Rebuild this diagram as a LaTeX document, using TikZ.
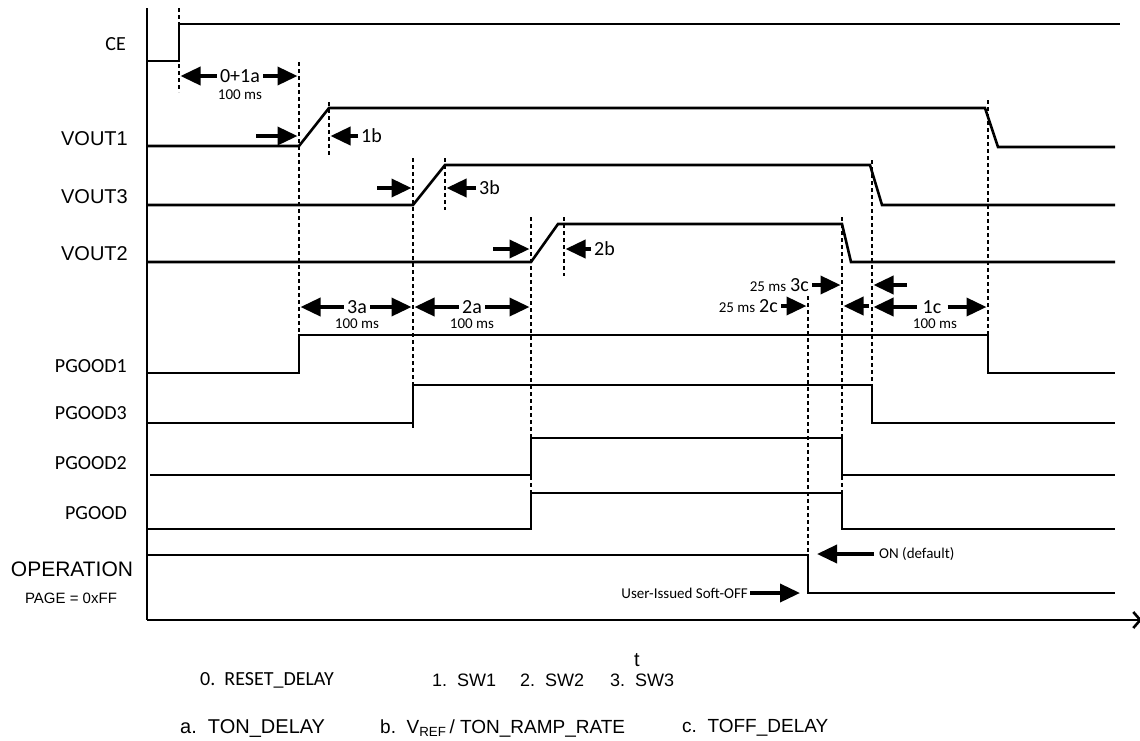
\documentclass[tikz,border=0pt]{standalone}
\usepackage{fontspec}
\setmainfont{Carlito}
\newfontfamily\arialfont{Liberation Sans}
\usetikzlibrary{arrows.meta,positioning}

\tikzset{
  sig/.style={line width=2.6pt, line join=miter},
  axisline/.style={line width=2.6pt},
  guide/.style={line width=2.4pt, dash pattern=on 4pt off 3pt},
  dimarr/.style={line width=3.6pt, shorten >=1.5pt, -{Triangle[length=20pt,width=18pt]}},
  lbl/.style={font=\fontsize{20}{24}\selectfont, inner sep=0pt},
  vlbl/.style={font=\arialfont\fontsize{20}{24}\selectfont, inner sep=0pt},
  dly/.style={font=\fontsize{20}{24}\selectfont, inner sep=0pt},
  ms/.style={font=\fontsize{15}{18}\selectfont, inner sep=0pt},
  note/.style={font=\fontsize{15}{18}\selectfont, inner sep=0pt},
  leg/.style={font=\arialfont\fontsize{19}{22}\selectfont, inner sep=0pt, anchor=west},
}
\newcommand{\msfont}{\fontsize{15}{18}\selectfont}

\begin{document}
\begin{tikzpicture}[x=1pt,y=-1pt]
\useasboundingbox (0,0) rectangle (1140,740);

% === Axes ===
\draw[axisline] (147,8) -- (147,620);
\draw[axisline,-{Straight Barb[length=7pt,width=16pt]}] (147,620) -- (1142,620);
\node[font=\arialfont\fontsize{20}{24}\selectfont, inner sep=0pt] (tlab) at (637,660) {t};

% === Signal names ===
\node[lbl,anchor=east] (nCE) at (126,44) {CE};
\foreach \nm/\yy in {VOUT1/139, VOUT3/197, VOUT2/254} {
  \node[vlbl,anchor=east] (n\nm) at (128,\yy) {\nm};
}
\foreach \nm/\yy in {PGOOD1/366, PGOOD3/413, PGOOD2/463, PGOOD/513} {
  \node[lbl,anchor=east] (n\nm) at (127,\yy) {\nm};
}
\node[font=\arialfont\fontsize{21}{24}\selectfont, inner sep=0pt] (nOP) at (72,569) {OPERATION};
\node[font=\arialfont\fontsize{15}{18}\selectfont, inner sep=0pt] (nPG) at (71,598) {PAGE = 0xFF};

% === Guide lines (name/x/top/bottom) ===
\foreach \gn/\gx/\ga/\gb in {g0/179/8/92, g1/299/62/373, g1r/329/102/157,
    g3/413/158/430, g3r/445/158/210, g2/531/217/530, g2r/564/217/276,
    goff/808/296/555, g2off/842/217/530, g3off/872/160/423, g1off/988/100/373} {
  \draw[guide] (\gx,\ga) -- (\gx,\gb);
  \coordinate (\gn) at (\gx,\ga);
}

% === Waveforms ===
\draw[sig] (147,61) -- (179,61) -- (179,24) -- (1120,24);
\draw[sig] (147,146) -- (299,146) -- (329,108) -- (985,108) -- (998,147) -- (1115,147);
\draw[sig] (147,205) -- (413,205) -- (445,165) -- (870,165) -- (882,205) -- (1115,205);
\draw[sig] (147,262) -- (531,262) -- (558,224) -- (842,224) -- (851,262) -- (1115,262);
\draw[sig] (147,373) -- (299,373) -- (299,335) -- (988,335) -- (988,373) -- (1115,373);
\draw[sig] (147,423) -- (413,423) -- (413,385) -- (872,385) -- (872,423) -- (1115,423);
\draw[sig] (150,475) -- (531,475) -- (531,438) -- (842,438) -- (842,475) -- (1115,475);
\draw[sig] (147,529) -- (531,529) -- (531,493) -- (842,493) -- (842,529) -- (1115,529);
\draw[sig] (147,555) -- (808,555) -- (808,593) -- (1115,593);

% === Turn-on delays ===
\node[dly] (l01a) at (240,76) {0+1a};
\node[ms] (m01a) at (240,95) {100 ms};
\draw[dimarr] ([xshift=-3pt]l01a.west) -- (l01a.west -| g0);
\draw[dimarr] ([xshift=3pt]l01a.east) -- (l01a.east -| g1);

\node[dly] (l3a) at (357,307) {3a};
\node[ms] (m3a) at (357,324) {100 ms};
\draw[dimarr] ([xshift=-3pt]l3a.west) -- (l3a.west -| g1);
\draw[dimarr] ([xshift=3pt]l3a.east) -- (l3a.east -| g3);

\node[dly] (l2a) at (472,307) {2a};
\node[ms] (m2a) at (472,324) {100 ms};
\draw[dimarr] ([xshift=-3pt]l2a.west) -- (l2a.west -| g3);
\draw[dimarr] ([xshift=3pt]l2a.east) -- (l2a.east -| g2);

% === Ramp times ===
\coordinate (a1b) at (256,136);
\draw[dimarr] (a1b) -- (a1b -| g1);
\node[dly,anchor=west] (l1b) at (361,136) {1b};
\draw[dimarr] ([xshift=-3pt]l1b.west) -- (l1b.west -| g1r);

\coordinate (a3b) at (377,188);
\draw[dimarr] (a3b) -- (a3b -| g3);
\node[dly,anchor=west] (l3b) at (479,188) {3b};
\draw[dimarr] ([xshift=-3pt]l3b.west) -- (l3b.west -| g3r);

\coordinate (a2b) at (493,249);
\draw[dimarr] (a2b) -- (a2b -| g2);
\node[dly,anchor=west] (l2b) at (594,249) {2b};
\draw[dimarr] ([xshift=-3pt]l2b.west) -- (l2b.west -| g2r);

% === Turn-off delays ===
\node[dly,anchor=east] (l3c) at (809,285) {\msfont 25 ms\hspace{4pt}\fontsize{20}{24}\selectfont 3c};
\draw[dimarr] ([xshift=3pt]l3c.east) -- (l3c.east -| g2off);
\coordinate (a3c) at (907,285);
\draw[dimarr] (a3c) -- (a3c -| g3off);

\node[dly,anchor=east] (l2c) at (778,306) {\msfont 25 ms\hspace{4pt}\fontsize{20}{24}\selectfont 2c};
\draw[dimarr] ([xshift=3pt]l2c.east) -- (l2c.east -| goff);
\coordinate (a2c) at (869,306);
\draw[dimarr] (a2c) -- (a2c -| g2off);

\node[dly] (l1c) at (932,307) {1c};
\node[ms] (m1c) at (935,324) {100 ms};
\draw[dimarr] ([xshift=-6pt]l1c.west) -- (l1c.west -| g3off);
\draw[dimarr] ([xshift=6pt]l1c.east) -- (l1c.east -| g1off);

% === OPERATION notes ===
\node[note,anchor=west] (lon) at (879,554) {ON (default)};
\draw[dimarr,shorten >=9pt] ([xshift=-5pt]lon.west) -- (lon.west -| goff);
\node[note,anchor=east] (lsoft) at (748,593) {User-Issued Soft-OFF};
\draw[dimarr,shorten >=8pt] ([xshift=2pt]lsoft.east) -- (lsoft.east -| goff);

% === Legend ===
\node[leg,font=\fontsize{20}{24}\selectfont] (k0) at (200,680) {0.\ \ RESET\_DELAY};
\node[leg,font=\arialfont\fontsize{18}{22}\selectfont] (k1) at (432,680) {1.\ \ SW1};
\node[leg,font=\arialfont\fontsize{18}{22}\selectfont] (k2) at (520,680) {2.\ \ SW2};
\node[leg,font=\arialfont\fontsize{18}{22}\selectfont] (k3) at (610,680) {3.\ \ SW3};
\node[leg,font=\arialfont\fontsize{20}{24}\selectfont] (ka) at (180,728) {a.\ \ TON\_DELAY};
\node[leg] (kb) at (380,728) {b.\ \ V\textsubscript{REF}\,/ TON\_RAMP\_RATE};
\node[leg] (kc) at (682,728) {c.\ \ TOFF\_DELAY};

\end{tikzpicture}
\end{document}
